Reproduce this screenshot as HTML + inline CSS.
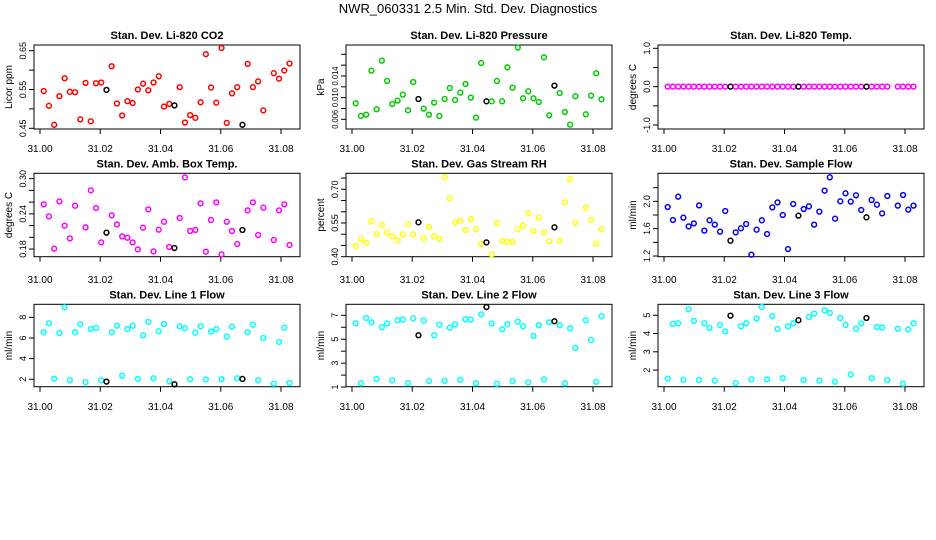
<!DOCTYPE html>
<html><head><meta charset="utf-8"><style>
body{margin:0;background:#fff;}
svg{display:block;font-family:"Liberation Sans",sans-serif;}
</style></head><body>
<svg id="chart" width="936" height="540" viewBox="0 0 936 540" xmlns="http://www.w3.org/2000/svg">
<rect width="936" height="540" fill="#fff"/>
<text x="468" y="13" text-anchor="middle" font-size="13">NWR_060331  2.5 Min. Std. Dev. Diagnostics</text>
</svg>
<script>
const xTicks = [31.00, 31.02, 31.04, 31.06, 31.08];
const xTickLabels = ["31.00", "31.02", "31.04", "31.06", "31.08"];
const xStart = 31.00123;
const xStep = 0.001736;
const blackIdx = [12, 25, 38];
const titles = ["Stan. Dev. Li-820 CO2","Stan. Dev. Li-820 Pressure","Stan. Dev. Li-820 Temp.","Stan. Dev. Amb. Box Temp.","Stan. Dev. Gas Stream RH","Stan. Dev. Sample Flow","Stan. Dev. Line 1 Flow","Stan. Dev. Line 2 Flow","Stan. Dev. Line 3 Flow"];
const yTitles = ["Licor ppm","kPa","degrees C","degrees C","percent","ml/min","ml/min","ml/min","ml/min"];
const colors = ["#ff0000","#00cc00","#ff00ff","#ff00ff","#ffff00","#0000ff","#00ffff","#00ffff","#00ffff"];
const co2 = [0.546,0.508,0.459,0.533,0.579,0.544,0.543,0.473,0.567,0.468,0.566,0.568,0.549,0.610,0.514,0.483,0.520,0.515,0.550,0.565,0.548,0.568,0.584,0.506,0.513,0.509,0.556,0.465,0.484,0.477,0.517,0.641,0.555,0.516,0.657,0.464,0.540,0.556,0.459,0.616,0.556,0.571,0.496,null,0.592,0.578,0.599,0.617];
const pressure = [0.00895,0.00662,0.00686,0.01498,0.00785,0.01683,0.01308,0.00883,0.00945,0.01055,0.00766,0.01289,0.00975,0.00797,0.00686,0.00908,0.00662,0.00975,0.01178,0.00957,0.01092,0.01252,0.0100,0.00631,0.0164,0.00932,0.00932,0.01308,0.00932,0.0156,0.01185,0.01923,0.00988,0.01117,0.00988,0.0092,0.01745,0.00674,0.01222,0.01086,0.00735,0.00502,0.01025,null,0.00692,0.01037,0.0145,0.00969];
const temp = [0,0,0,0,0,0,0,0,0,0,0,0,0,0,0,0,0,0,0,0,0,0,0,0,0,0,0,0,0,0,0,0,0,0,0,0,0,0,0,0,0,0,0,null,0,0,0,0];
const boxTemp = [0.2562,0.2357,0.1806,0.2613,0.2198,0.1982,0.2539,null,0.2170,0.2801,0.2499,0.1914,0.2079,0.2374,0.2221,0.2016,0.1993,0.1914,0.1794,0.2164,0.2477,0.1760,0.2130,0.2266,0.1834,0.1817,0.2329,0.3023,0.2107,0.2124,0.2579,0.1755,0.2295,0.2596,0.1709,0.2266,0.2107,0.1885,0.2124,0.2460,0.2596,0.2039,0.2505,null,0.1954,0.2460,0.2562,0.1868];
const rh = [0.4476,0.4802,0.4624,0.5574,0.5010,0.5411,0.5084,0.4906,0.4728,0.4995,0.5441,0.4995,0.5530,0.4817,0.5322,0.4906,0.4802,0.7535,0.6599,0.5530,0.5604,0.5188,0.5663,0.5218,0.4565,0.4639,0.4104,0.5500,0.4698,0.4654,0.4654,0.5218,0.5381,0.5931,0.5144,0.5738,0.5084,0.4683,0.5307,0.4713,0.6421,0.7445,0.5515,null,0.6183,0.5634,0.4579,0.5218];
const sampleFlow = [1.917,1.727,2.068,1.761,1.634,1.678,1.941,1.571,1.722,1.659,1.556,1.859,1.424,1.546,1.605,1.668,1.220,1.585,1.722,1.522,1.912,1.985,1.800,1.302,1.961,1.790,1.888,1.927,1.659,1.849,2.156,2.351,1.746,2.000,2.117,1.995,2.088,1.873,1.766,2.020,1.951,1.824,2.078,null,1.937,2.093,1.878,1.937];
const line1 = [6.55,7.42,2.06,6.48,8.97,1.90,6.55,7.32,1.71,6.87,6.97,1.90,1.77,6.55,7.19,2.35,6.87,7.19,2.03,6.26,7.55,2.10,6.65,7.35,1.81,1.52,7.13,6.94,2.00,6.52,7.13,1.97,6.61,6.87,2.00,6.13,7.10,2.10,2.03,6.55,7.29,1.90,6.00,null,1.58,5.61,7.00,1.65];
const line2 = [6.33,1.31,6.78,6.42,1.67,6.00,6.31,1.56,6.58,6.64,1.33,6.75,5.33,6.56,1.50,5.33,6.22,1.53,5.97,6.25,1.61,6.67,6.64,1.33,7.08,7.69,6.31,1.28,5.83,6.25,1.50,6.47,6.08,1.39,5.28,6.17,1.64,6.42,6.50,6.17,1.31,5.92,4.28,null,6.58,4.94,1.44,6.92];
const line3 = [1.53,4.53,4.56,1.47,5.33,4.69,1.45,4.56,4.31,1.42,4.47,4.11,4.98,1.29,4.40,4.56,1.49,4.82,5.45,1.49,4.95,4.25,1.56,4.40,4.56,4.73,1.45,4.91,5.09,1.42,5.27,5.13,1.36,4.85,4.47,1.76,4.27,4.55,4.85,1.56,4.35,4.33,1.45,null,4.27,1.25,4.22,4.56];
const yDomains = [[0.4482,0.6647],[0.00421,0.01972],[-1.104,1.086],[0.1669,0.3092],[0.40,0.7712],[1.19,2.41],[1.28,9.26],[1.03,7.92],[1.09,5.6]];
const yTicks = [[0.45,0.50,0.55,0.60,0.65],[0.006,0.008,0.010,0.012,0.014,0.016,0.018],[-1,-0.5,0,0.5,1],[0.18,0.20,0.22,0.24,0.26,0.28,0.30],[0.40,0.45,0.50,0.55,0.60,0.65,0.70,0.75],[1.2,1.4,1.6,1.8,2.0,2.2],[2,4,6,8],[1,2,3,4,5,6,7],[2,3,4,5]];
const yTickLabels = [["0.45","","0.55","","0.65"],["0.006","","0.010","","0.014","",""],["-1.0","","0.0","","1.0"],["0.18","","","0.24","","","0.30"],["0.40","","","0.55","","","0.70",""],["1.2","","1.6","","2.0",""],["2","4","6","8"],["1","","3","","5","","7"],["2","3","4","5"]];
const series = [co2,pressure,temp,boxTemp,rh,sampleFlow,line1,line2,line3];

const NS = "http://www.w3.org/2000/svg";
const svg = document.getElementById("chart");
const colOff = [0,312,624];
const rowBox = [[45,129],[173.3,256.7],[304.3,386.7]];
const rowXLab = [152,283,410];
function mk(tag, attrs, parent){ const e=document.createElementNS(NS,tag); for(const k in attrs) e.setAttribute(k,attrs[k]); (parent||svg).appendChild(e); return e; }

for(let p=0;p<9;p++){
  const col=p%3,row=Math.floor(p/3),off=colOff[col];
  const L=34+off,R=300+off,T=rowBox[row][0],B=rowBox[row][1];
  const g=mk("g",{});
  
  
  const xs=v=>40+off+(v-31.0)*3012.5;
  const [d0,d1]=yDomains[p];
  const ys=v=>B-(v-d0)/(d1-d0)*(B-T);
  const box=mk("rect",{x:L,y:T,width:R-L,height:B-T,fill:"none",stroke:"#000","stroke-width":1},g);
  
  
  const t=mk("text",{x:(L+R)/2,y:T-6,"text-anchor":"middle","font-size":11,"font-weight":"bold"},g);
  t.textContent=titles[p];
  
  
  const yt=mk("text",{transform:`translate(${off+12},${(T+B)/2}) rotate(-90)`,"text-anchor":"middle","font-size":10},g);
  yt.textContent=yTitles[p];
  
  
  xTicks.forEach((v,i)=>{
    const x=xs(v);
    mk("line",{x1:x,x2:x,y1:B,y2:B+5,stroke:"#000"},g);
    const lab=mk("text",{x:x,y:rowXLab[row],"text-anchor":"middle","font-size":10},g);
    lab.textContent=xTickLabels[i];
    
    
  });
  yTicks[p].forEach((v,i)=>{
    const y=ys(v);
    mk("line",{x1:L-5,x2:L,y1:y,y2:y,stroke:"#000"},g);
    if(yTickLabels[p][i]){
      const attrs={transform:`translate(${L-8},${y}) rotate(-90)`,"text-anchor":"middle","font-size":p===1?8:9};
      if(p===1){ attrs.textLength=19; attrs.lengthAdjust="spacingAndGlyphs"; }
      const lab=mk("text",attrs,g);
      lab.textContent=yTickLabels[p][i];
      
      
    }
  });
  series[p].forEach((v,i)=>{
    if(v===null) return;
    const c=mk("circle",{cx:xs(xStart+i*xStep),cy:ys(v),r:2.4,fill:"none",stroke:blackIdx.includes(i)?"#000":colors[p],"stroke-width":1.5},g);
    
    
  });
}
</script>
</body></html>
